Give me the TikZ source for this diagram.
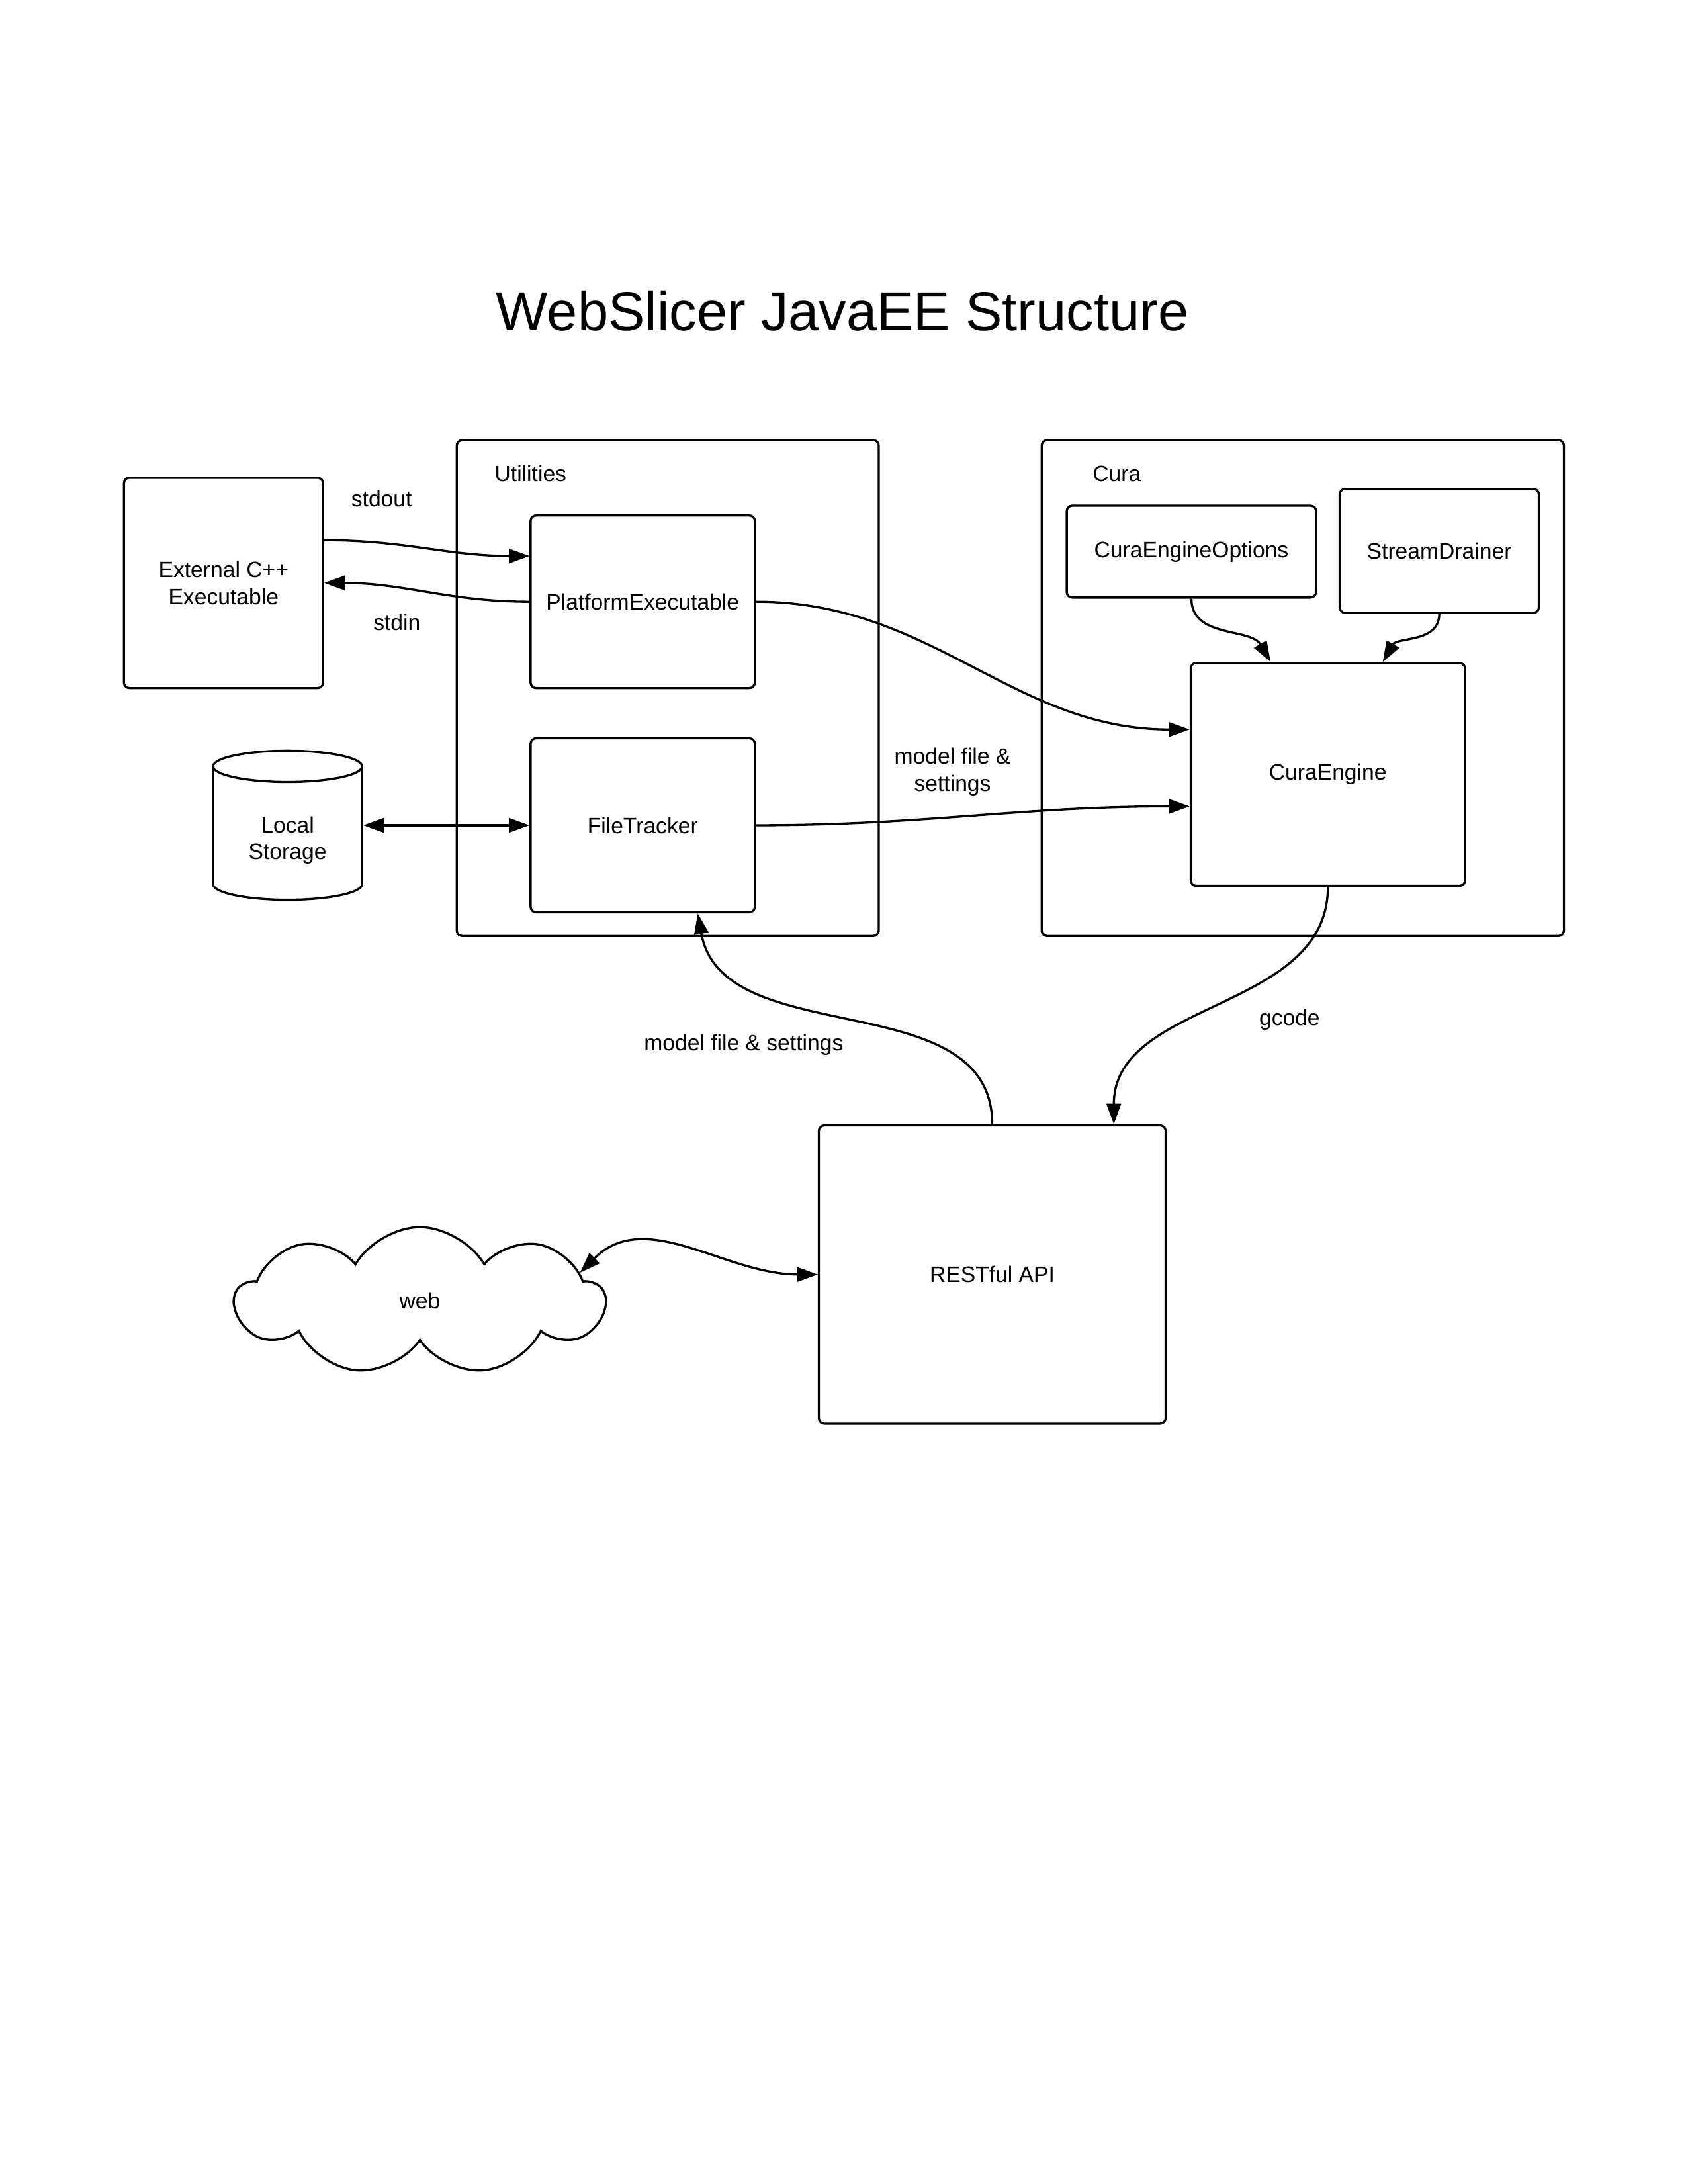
\documentclass[tikz,border=0pt]{standalone}
\usepackage{fontspec}
\setmainfont{Liberation Sans}
\usetikzlibrary{arrows.meta,shapes.geometric,shapes.symbols}

\def\pxu{0.017813cm} % one pixel of the layout grid

\tikzset{
  every node/.style={font=\fontsize{8.1}{9.8}\selectfont},
  box/.style={draw, line width=0.8pt, rounded corners=2pt, align=center, inner sep=0pt},
  boxsize/.style 2 args={minimum width=#1*\pxu, minimum height=#2*\pxu},
  link/.style={line width=0.8pt, -{Triangle[length=7.5pt,width=5.2pt]}},
  twolink/.style={line width=0.8pt, {Triangle[length=7.5pt,width=5.2pt]}-{Triangle[length=7.5pt,width=5.2pt]}}
}

\begin{document}
\begin{tikzpicture}[x=\pxu, y=\pxu]
\useasboundingbox (0,0) rectangle (1212,-1568);

\node[font=\fontsize{20}{24}\selectfont] (title) at (605,-223) {WebSlicer JavaEE Structure};

% containers
\node[box, boxsize={303}{356}] (util) at (479.5,-494) {};
\node[box, boxsize={375}{356}] (cura) at (935.5,-494) {};
\node (utillabel) at (381,-340) {Utilities};
\node (curalabel) at (802,-340) {Cura};

% components
\node[box, boxsize={143}{151}] (ext) at (160.5,-418.5) {External C++\\Executable};
\node[box, boxsize={161}{124}] (platform) at (461.5,-432) {PlatformExecutable};
\node[box, boxsize={161}{125}] (tracker) at (461.5,-592.5) {FileTracker};
\node[cylinder, shape border rotate=90, aspect=0.4, draw, line width=0.8pt,
      boxsize={107}{107}, inner sep=0pt] (storage) at (206.5,-598.5)
      {\raisebox{-0.09cm}[\height][\depth]{\begin{tabular}{@{}c@{}}Local\\Storage\end{tabular}}};
\node[box, boxsize={179}{66}] (options) at (855.5,-396) {CuraEngineOptions};
\node[box, boxsize={143}{89}] (drainer) at (1033.5,-395.5) {StreamDrainer};
\node[box, boxsize={197}{160}] (engine) at (953.5,-556) {CuraEngine};
\node[box, boxsize={249}{214}] (rest) at (712.5,-915) {RESTful API};
\node[cloud, cloud puffs=9, cloud puff arc=120, cloud ignores aspect, draw, line width=0.8pt,
      boxsize={265}{106}] (web) at (301.5,-934) {web};

% labels
\node (stdout) at (274,-358) {stdout};
\node (stdin) at (285,-447) {stdin};
\node[align=center] (modelfile) at (684,-554) {model file \&\\settings};
\node (upload) at (534,-750) {model file \& settings};
\node (gcode) at (926,-732) {gcode};

% connectors
\draw[link] (ext.23) to[out=0,in=180] (platform.158);
\draw[link] (platform.west) to[out=180,in=0] (ext.east);
\draw[link] (platform.east) to[out=0,in=180] (engine.162);
\draw[link] (tracker.east) to[out=0,in=180] (engine.193);
\draw[twolink] (storage.east |- tracker.west) -- (tracker.west);
\draw[link] (options.south) to[out=-90,in=120] (engine.117);
\draw[link] (drainer.south) to[out=-90,in=60] (engine.64);
\draw[link] (engine.south) to[out=-90,in=90] (rest.51);
\draw[link] (rest.north) to[out=90,in=-80] (tracker.-58);
\draw[twolink] (web.10) to[out=45,in=180] (rest.west);
\end{tikzpicture}
\end{document}
